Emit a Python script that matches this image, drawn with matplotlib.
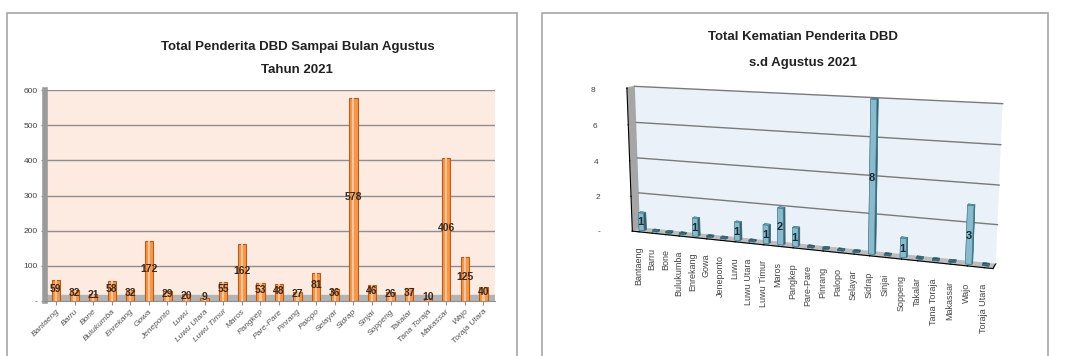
import matplotlib
matplotlib.use("Agg")
import matplotlib.pyplot as plt
from matplotlib.patches import Rectangle
from mpl_toolkits.mplot3d.art3d import Poly3DCollection

regions = [
    "Bantaeng", "Barru", "Bone", "Bulukumba", "Enrekang", "Gowa", "Jeneponto",
    "Luwu", "Luwu Utara", "Luwu Timur", "Maros", "Pangkep", "Pare-Pare",
    "Pinrang", "Palopo", "Selayar", "Sidrap", "Sinjai", "Soppeng", "Takalar",
    "Tana Toraja", "Makassar", "Wajo", "Toraja Utara",
]
cases = [59, 32, 21, 58, 32, 172, 29, 20, 9, 55, 162, 53, 48, 27, 81, 36,
         578, 46, 26, 37, 10, 406, 125, 40]
deaths = [1, 0, 0, 0, 1, 0, 0, 1, 0, 1, 2, 1, 0, 0, 0, 0,
          8, 0, 1, 0, 0, 0, 3, 0]
case_ticks = [0, 100, 200, 300, 400, 500, 600]
death_ticks = [0, 2, 4, 6, 8]

FONT = ["Liberation Sans", "DejaVu Sans"]
plt.rcParams["font.family"] = FONT

fig = plt.figure(figsize=(10.66, 3.56), dpi=100)

# panel frames
for x0, w in [(0.0066, 0.478), (0.508, 0.475)]:
    fig.patches.append(Rectangle((x0, -0.01), w, 0.973, transform=fig.transFigure,
                                 facecolor="white", edgecolor="#a6a6a6", lw=1.2,
                                 zorder=-5))


def fmt(v):
    return "-" if v == 0 else str(v)


# left chart: cases
ax = fig.add_axes([0.042, 0.154, 0.422, 0.593])
ax.set_facecolor("#fdeae1")
x = list(range(len(regions)))
ax.set_xlim(-0.6, len(regions) - 0.4)
ax.set_ylim(0, 600)
ax.axhspan(0, 18, color="#b3b3b3", zorder=1)
for t in case_ticks[1:]:
    ax.axhline(t, color="#8e8e8e", lw=1, zorder=1)
ax.bar(x, cases, width=0.45, color="#f79646", edgecolor="#b85c1d", lw=0.8, zorder=3)
ax.bar(x, cases, width=0.12, color="#fbc49a", lw=0, zorder=4, align="center")
for xi, v in zip(x, cases):
    ax.text(xi, v / 2 + 6, str(v), ha="center", va="center", fontsize=7.5,
            fontweight="bold", color="#3b2a20", zorder=5)
ax.set_yticks(case_ticks)
ax.set_yticklabels([fmt(t) for t in case_ticks], fontsize=6, color="#444444")
ax.set_xticks(x)
ax.set_xticklabels(regions, rotation=45, ha="right", rotation_mode="anchor",
                   fontsize=6, color="#555555", style="italic")
ax.tick_params(axis="both", length=3, color="#8e8e8e", pad=2)
for s in ["top", "right"]:
    ax.spines[s].set_visible(False)
ax.spines["left"].set_color("#9a9a9a")
ax.spines["left"].set_linewidth(4)
ax.spines["bottom"].set_color("#8e8e8e")
fig.text(0.279, 0.868, "Total Penderita DBD Sampai Bulan Agustus", ha="center",
         va="center", fontsize=9.5, fontweight="bold", color="#222222")
fig.text(0.279, 0.803, "Tahun 2021", ha="center", va="center", fontsize=9.5,
         fontweight="bold", color="#222222")

# right chart: deaths (3D)
# the 3d axes is squared by matplotlib, so its artists must not be clipped
xmin, xmax = -0.5, len(regions) - 0.5
zmax = death_ticks[-1]
ax3 = fig.add_axes([0.54, 0.085, 0.42, 0.84], projection="3d")
ax3.computed_zorder = False
ax3.set_facecolor("none")
ax3.set_proj_type("persp", focal_length=0.6)
ax3.view_init(elev=12, azim=-70)
ax3.set_box_aspect((7, 0.3, 2.8), zoom=1.35)
ax3.set_xlim(xmin, xmax, view_margin=0)
ax3.set_ylim(0, 1, view_margin=0)
ax3.set_zlim(0, zmax, view_margin=0)
ax3.xaxis.set_pane_color("#a6a6a6")
ax3.yaxis.set_pane_color((1, 1, 1, 0))
ax3.zaxis.set_pane_color("#bdbdbd")
ax3.zaxis.set_ticks_position("lower")
ax3.grid(False)
# back wall
ax3.add_collection3d(Poly3DCollection(
    [[(xmin, 1, 0), (xmax, 1, 0), (xmax, 1, zmax), (xmin, 1, zmax)]],
    facecolor="#eaf1f8", edgecolor="none", zorder=1, clip_on=False))
for t in death_ticks[1:]:
    ax3.plot([xmin, xmax], [1, 1], [t, t], color="#7a7a7a", lw=1, zorder=2,
             clip_on=False)
bw = 0.38
for xi, v in zip(x, deaths):
    h = v if v > 0 else 0.08
    c = "#9dd3e6" if v > 0 else "#505a5e"
    ax3.bar3d(xi - bw / 2, 0.35, 0, bw, 0.3, h, color=c, edgecolor="#3d7f99",
              lw=0.4, shade=True, zorder=5, clip_on=False)
    if v > 0:
        ax3.text(xi, 0.2, v / 2, str(v), ha="center", va="center", fontsize=8,
                 fontweight="bold", color="#1a2a33", zorder=10)
ax3.set_xticks(x)
ax3.set_xticklabels(regions, rotation=90, fontsize=6.5, color="#444444")
ax3.set_yticks([])
ax3.set_zticks(death_ticks)
ax3.set_zticklabels([fmt(t) for t in death_ticks], fontsize=6, color="#444444")
fig.text(0.753, 0.896, "Total Kematian Penderita DBD", ha="center", va="center",
         fontsize=9.5, fontweight="bold", color="#222222")
fig.text(0.753, 0.823, "s.d Agustus 2021", ha="center", va="center", fontsize=9.5,
         fontweight="bold", color="#222222")

fig.savefig("out.png", dpi=100)
